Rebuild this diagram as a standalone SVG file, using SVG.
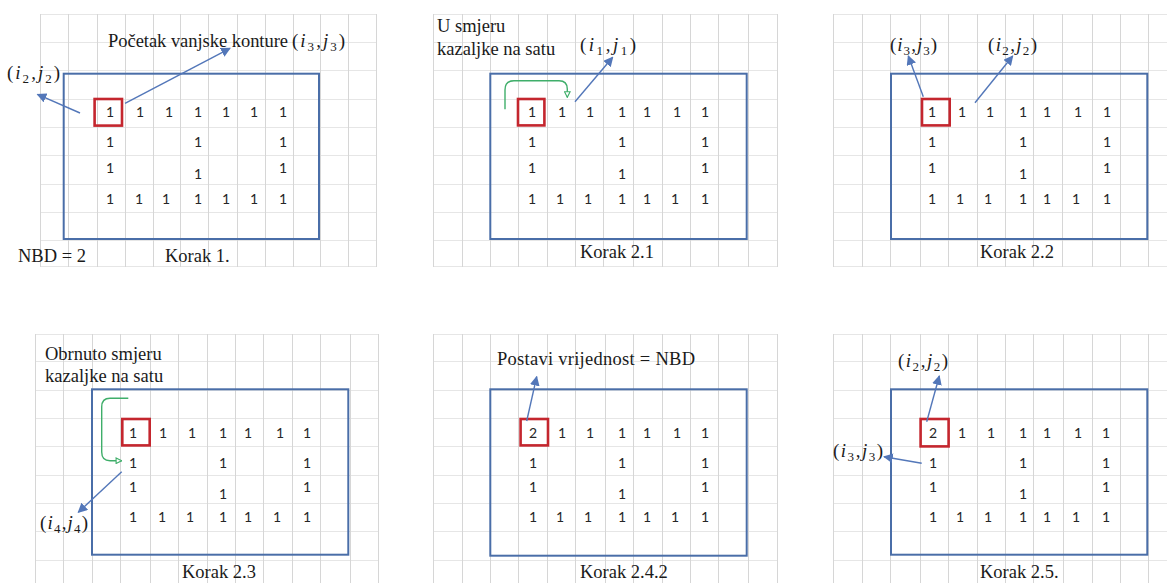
<svg xmlns="http://www.w3.org/2000/svg" width="1167" height="583" viewBox="0 0 1167 583">
<style>
.gv{stroke:#d6d6d6;stroke-width:1;fill:none}
.gh{stroke:#e6e6e6;stroke-width:1;fill:none}
.box{fill:none;stroke:#4a6ea8;stroke-width:2}
.sel{fill:none;stroke:#c4262e;stroke-width:2.6}
.n{font-family:Lato,'DejaVu Sans',sans-serif;font-size:14px;fill:#262626;text-anchor:middle}
.t{font-family:'Liberation Serif','DejaVu Serif',serif;font-size:18.5px;fill:#1a1a1a}
.m{font-family:'Liberation Serif','DejaVu Serif',serif;font-size:19px;fill:#1a1a1a}
.i{font-style:italic}
.s{font-size:13px}
.ba{fill:none;stroke:#5377b9;stroke-width:1.4;marker-end:url(#bh)}
.ga{fill:none;stroke:#3fae6a;stroke-width:1.4;marker-end:url(#gh)}
</style>
<defs>
<marker id="bh" viewBox="0 0 10 10" refX="9" refY="5" markerWidth="7" markerHeight="7" markerUnits="strokeWidth" orient="auto">
<path d="M0,0 L10,5 L0,10 Z" fill="#5377b9"/>
</marker>
<marker id="gh" viewBox="0 0 10 10" refX="9" refY="5" markerWidth="5" markerHeight="5" markerUnits="strokeWidth" orient="auto">
<path d="M1,1 L9,5 L1,9 Z" fill="#fff" stroke="#3fae6a" stroke-width="1.6"/>
</marker>
</defs>
<rect width="1167" height="583" fill="#fff"/>

<g id="panel-1">
<path class="gh" d="M40,14.5H377M40,42.5H377M40,70.5H377M40,99.5H377M40,127.5H377M40,155.5H377M40,184.5H377M40,212.5H377M40,240.5H377M40,266.5H377"/>
<path class="gv" d="M40.5,14V267M68.5,14V267M97.5,14V267M125.5,14V267M153.5,14V267M180.5,14V267M208.5,14V267M237.5,14V267M265.5,14V267M293.5,14V267M320.5,14V267M348.5,14V267M376.5,14V267"/>
<rect class="box" x="63.7" y="73.7" width="255.3" height="165.3"/>
<rect class="sel" x="94.6" y="99" width="27.4" height="26.6"/>
<text class="n" x="110 140 169 198 226 254 283" y="117">1111111</text>
<text class="n" x="110" y="147">1</text><text class="n" x="198" y="147">1</text><text class="n" x="283" y="147">1</text>
<text class="n" x="110" y="173">1</text><text class="n" x="198" y="179">1</text><text class="n" x="283" y="173">1</text>
<text class="n" x="110 139 166 198 226 254 283" y="204">1111111</text>
<text class="t" x="108" y="47" textLength="180" lengthAdjust="spacing">Početak vanjske konture</text>
<text class="m" x="292" y="47" textLength="53" lengthAdjust="spacing">(<tspan class="i">i</tspan><tspan class="s" dy="4">3</tspan><tspan dy="-4">,</tspan><tspan class="i">j</tspan><tspan class="s" dy="4">3</tspan><tspan dy="-4">)</tspan></text>
<text class="m" x="7" y="79" textLength="53" lengthAdjust="spacing">(<tspan class="i">i</tspan><tspan class="s" dy="4">2</tspan><tspan dy="-4">,</tspan><tspan class="i">j</tspan><tspan class="s" dy="4">2</tspan><tspan dy="-4">)</tspan></text>
<text class="t" x="18" y="262">NBD = 2</text>
<text class="t" x="165" y="262">Korak 1.</text>
</g>

<g id="panel-2">
<path class="gh" d="M433,14.5H777M433,42.5H777M433,70.5H777M433,99.5H777M433,127.5H777M433,155.5H777M433,184.5H777M433,212.5H777M433,240.5H777M433,266.5H777"/>
<path class="gv" d="M433.5,14V267M462.5,14V267M490.5,14V267M518.5,14V267M547.5,14V267M575.5,14V267M603.5,14V267M633.5,14V267M662.5,14V267M690.5,14V267M718.5,14V267M748.5,14V267M777.5,14V267"/>
<rect class="box" x="490.3" y="73.7" width="256.4" height="165.3"/>
<rect class="sel" x="518" y="99" width="26.4" height="26.4"/>
<text class="n" x="532 562 590 622 647 677 705" y="117">1111111</text>
<text class="n" x="532" y="147">1</text><text class="n" x="622" y="147">1</text><text class="n" x="705" y="147">1</text>
<text class="n" x="532" y="173">1</text><text class="n" x="622" y="179">1</text><text class="n" x="705" y="173">1</text>
<text class="n" x="532 560 588 622 647 675 705" y="204">1111111</text>
<text class="t" x="437" y="32">U smjeru</text>
<text class="t" x="437" y="55">kazaljke na satu</text>
<text class="m" x="580" y="51" textLength="56" lengthAdjust="spacing">(<tspan class="i">i</tspan><tspan class="s" dy="4">1</tspan><tspan dy="-4">,</tspan><tspan class="i">j</tspan><tspan class="s" dy="4">1</tspan><tspan dy="-4">)</tspan></text>
<text class="t" x="580" y="258">Korak 2.1</text>
</g>

<g id="panel-3">
<path class="gh" d="M833,14.5H1167M833,42.5H1167M833,70.5H1167M833,99.5H1167M833,127.5H1167M833,155.5H1167M833,184.5H1167M833,212.5H1167M833,240.5H1167M833,266.5H1167"/>
<path class="gv" d="M833.5,14V267M862.5,14V267M890.5,14V267M920.5,14V267M948.5,14V267M977.5,14V267M1005.5,14V267M1033.5,14V267M1062.5,14V267M1092.5,14V267M1120.5,14V267M1148.5,14V267"/>
<rect class="box" x="891" y="73.7" width="256.3" height="165.3"/>
<rect class="sel" x="922" y="99" width="27.7" height="26.4"/>
<text class="n" x="932 962 990 1023 1047 1078 1107" y="117">1111111</text>
<text class="n" x="932" y="147">1</text><text class="n" x="1023" y="147">1</text><text class="n" x="1107" y="147">1</text>
<text class="n" x="932" y="173">1</text><text class="n" x="1023" y="179">1</text><text class="n" x="1107" y="173">1</text>
<text class="n" x="932 960 988 1023 1047 1076 1107" y="204">1111111</text>
<text class="m" x="890" y="51" textLength="47" lengthAdjust="spacing">(<tspan class="i">i</tspan><tspan class="s" dy="4">3</tspan><tspan dy="-4">,</tspan><tspan class="i">j</tspan><tspan class="s" dy="4">3</tspan><tspan dy="-4">)</tspan></text>
<text class="m" x="988" y="51" textLength="49" lengthAdjust="spacing">(<tspan class="i">i</tspan><tspan class="s" dy="4">2</tspan><tspan dy="-4">,</tspan><tspan class="i">j</tspan><tspan class="s" dy="4">2</tspan><tspan dy="-4">)</tspan></text>
<text class="t" x="980" y="258">Korak 2.2</text>
</g>

<g id="panel-4">
<path class="gh" d="M35,334.5H378M35,361.5H378M35,390.5H378M35,418.5H378M35,446.5H378M35,475.5H378M35,503.5H378M35,531.5H378M35,560.5H378"/>
<path class="gv" d="M35.5,334V583M63.5,334V583M92.5,334V583M120.5,334V583M150.5,334V583M178.5,334V583M207.5,334V583M235.5,334V583M263.5,334V583M292.5,334V583M320.5,334V583M350.5,334V583M378.5,334V583"/>
<rect class="box" x="92" y="389.3" width="256.3" height="165.4"/>
<rect class="sel" x="122.3" y="419" width="27.4" height="26.4"/>
<text class="n" x="133 163 192 223 248 280 307" y="438">1111111</text>
<text class="n" x="133" y="468">1</text><text class="n" x="223" y="468">1</text><text class="n" x="307" y="468">1</text>
<text class="n" x="133" y="492">1</text><text class="n" x="223" y="499">1</text><text class="n" x="307" y="492">1</text>
<text class="n" x="133 162 190 223 248 277 307" y="522">1111111</text>
<text class="t" x="45" y="360">Obrnuto smjeru</text>
<text class="t" x="45" y="382">kazaljke na satu</text>
<text class="m" x="40" y="529" textLength="48" lengthAdjust="spacing">(<tspan class="i">i</tspan><tspan class="s" dy="4">4</tspan><tspan dy="-4">,</tspan><tspan class="i">j</tspan><tspan class="s" dy="4">4</tspan><tspan dy="-4">)</tspan></text>
<text class="t" x="182" y="578">Korak 2.3</text>
</g>

<g id="panel-5">
<path class="gh" d="M433,334.5H777M433,361.5H777M433,390.5H777M433,418.5H777M433,446.5H777M433,475.5H777M433,503.5H777M433,531.5H777M433,560.5H777"/>
<path class="gv" d="M433.5,334V583M462.5,334V583M490.5,334V583M518.5,334V583M547.5,334V583M575.5,334V583M605.5,334V583M633.5,334V583M662.5,334V583M690.5,334V583M718.5,334V583M748.5,334V583M777.5,334V583"/>
<rect class="box" x="490.3" y="389.3" width="256.4" height="166.4"/>
<rect class="sel" x="520.6" y="419" width="27.4" height="26.4"/>
<text class="n" x="533 562 590 622 647 677 705" y="438">2111111</text>
<text class="n" x="533" y="468">1</text><text class="n" x="622" y="468">1</text><text class="n" x="705" y="468">1</text>
<text class="n" x="533" y="492">1</text><text class="n" x="622" y="499">1</text><text class="n" x="705" y="492">1</text>
<text class="n" x="533 560 588 622 647 675 705" y="522">1111111</text>
<text class="t" x="497" y="365" textLength="198" lengthAdjust="spacing">Postavi vrijednost  = NBD</text>
<text class="t" x="580" y="578">Korak 2.4.2</text>
</g>

<g id="panel-6">
<path class="gh" d="M833,334.5H1167M833,361.5H1167M833,390.5H1167M833,418.5H1167M833,446.5H1167M833,475.5H1167M833,503.5H1167M833,531.5H1167M833,560.5H1167"/>
<path class="gv" d="M833.5,334V583M862.5,334V583M890.5,334V583M920.5,334V583M948.5,334V583M977.5,334V583M1005.5,334V583M1033.5,334V583M1063.5,334V583M1092.5,334V583M1120.5,334V583M1148.5,334V583"/>
<rect class="box" x="891" y="389.3" width="256.3" height="165.4"/>
<rect class="sel" x="920.6" y="419" width="28" height="27.4"/>
<text class="n" x="933 962 991 1023 1047 1078 1106" y="438">2111111</text>
<text class="n" x="933" y="468">1</text><text class="n" x="1023" y="468">1</text><text class="n" x="1106" y="468">1</text>
<text class="n" x="933" y="492">1</text><text class="n" x="1023" y="499">1</text><text class="n" x="1106" y="492">1</text>
<text class="n" x="933 960 988 1023 1047 1076 1106" y="522">1111111</text>
<text class="m" x="898" y="367" textLength="50" lengthAdjust="spacing">(<tspan class="i">i</tspan><tspan class="s" dy="4">2</tspan><tspan dy="-4">,</tspan><tspan class="i">j</tspan><tspan class="s" dy="4">2</tspan><tspan dy="-4">)</tspan></text>
<text class="m" x="833" y="457" textLength="50" lengthAdjust="spacing">(<tspan class="i">i</tspan><tspan class="s" dy="4">3</tspan><tspan dy="-4">,</tspan><tspan class="i">j</tspan><tspan class="s" dy="4">3</tspan><tspan dy="-4">)</tspan></text>
<text class="t" x="980" y="578">Korak 2.5.</text>
</g>

<g id="connectors">
<line class="ba" x1="80" y1="113" x2="37.5" y2="94.3"/>
<line class="ba" x1="125" y1="103.3" x2="230" y2="48.3"/>
<path class="ga" d="M505,109.3V90Q505,80.7 514,80.7H559Q567.3,80.7 567.3,89V97.3"/>
<line class="ba" x1="575" y1="101.7" x2="612.7" y2="57.3"/>
<line class="ba" x1="923.3" y1="96.7" x2="908.3" y2="56"/>
<line class="ba" x1="975" y1="102.7" x2="1012.7" y2="56"/>
<path class="ga" d="M128.3,398.3H110Q101.7,398.3 101.7,407V452Q101.7,460.7 110,460.7H121.7"/>
<line class="ba" x1="121.7" y1="471.7" x2="78.3" y2="512.3"/>
<line class="ba" x1="526.7" y1="421" x2="536.7" y2="376.7"/>
<line class="ba" x1="926.7" y1="421.7" x2="939.3" y2="376"/>
<line class="ba" x1="921.7" y1="463.3" x2="884" y2="456.7"/>
</g>
</svg>
